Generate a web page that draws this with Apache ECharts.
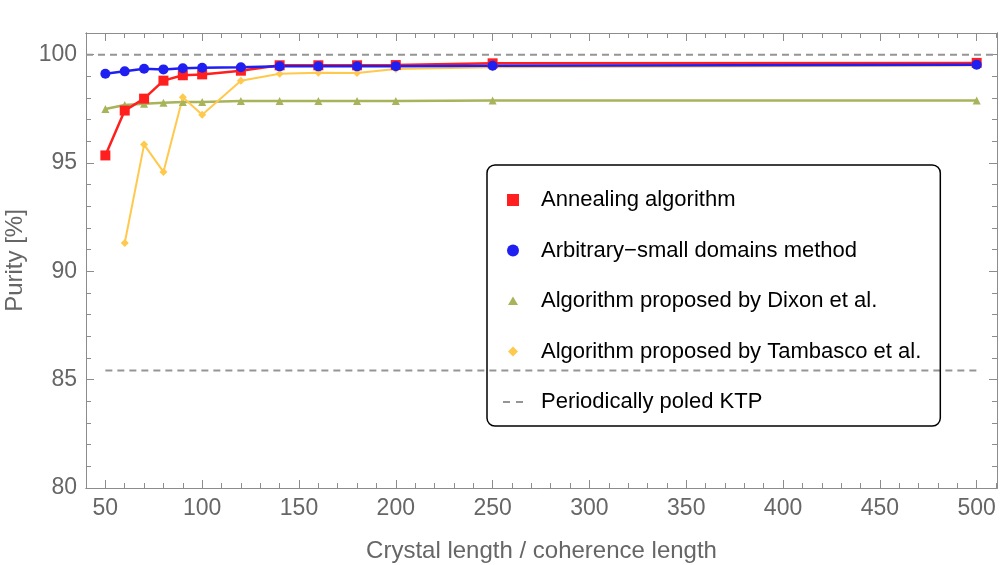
<!DOCTYPE html>
<html>
<head>
    <meta charset="UTF-8">
    <title>Purity vs crystal length</title>
    <style type="text/css">
        body { margin: 0; background: #fff; }
        #mychart { width: 1000px; height: 565px; }
    </style>
</head>
<body>
<div id="mychart"></div>
<script src="https://cdn.jsdelivr.net/npm/echarts@6/dist/echarts.min.js"></script>
<script>
    // crystal length / coherence length
    var lengths = [50, 60, 70, 80, 90, 100, 120, 140, 160, 180, 200, 250, 500];
    var lengthsTamb = [60, 70, 80, 90, 100, 120, 140, 160, 180, 200, 250, 500];

    // purity [%]
    var annealing = [95.35, 97.42, 97.97, 98.80, 99.05, 99.09, 99.26, 99.51, 99.51, 99.51, 99.52, 99.60, 99.62];
    var arbitrary = [99.12, 99.23, 99.35, 99.32, 99.37, 99.40, 99.42, 99.46, 99.46, 99.46, 99.47, 99.49, 99.54];
    var dixon = [97.49, 97.68, 97.74, 97.78, 97.82, 97.82, 97.86, 97.86, 97.86, 97.86, 97.86, 97.88, 97.88];
    var tambasco = [91.31, 95.85, 94.59, 98.03, 97.23, 98.80, 99.12, 99.17, 99.15, 99.34, 99.42, 99.50];

    var ppktp = 85.42;
    var ideal = 100;
    var ppktpRange = [50, 500];

    var xMajor = [50, 100, 150, 200, 250, 300, 350, 400, 450, 500];
    var yMajor = [80, 85, 90, 95, 100];

    var names = ['Annealing algorithm', 'Arbitrary\u2212small domains method',
        'Algorithm proposed by Dixon et al.', 'Algorithm proposed by Tambasco et al.',
        'Periodically poled KTP'];

    function pairs(xs, ys) {
        var out = [];
        for (var i = 0; i < ys.length; i++) {
            out.push([xs[i], ys[i]]);
        }
        return out;
    }

    var xMinor = [];
    for (var v = 40; v <= 510; v += 10) xMinor.push(v);
    var yMinor = [];
    for (var w = 80; w <= 101; w += 1) yMinor.push(w);

    var frameColor = '#8c8c8c';
    var textColor = '#666666';
    var font = 'Liberation Sans, Arial, sans-serif';

    function xAx(pos, ticks, len, showLabel, extra) {
        var a = {
            type: 'value', position: pos, min: 40, max: 510.5,
            axisLine: {show: true, onZero: false, lineStyle: {color: frameColor, width: 1}},
            axisTick: {show: true, inside: true, length: len, customValues: ticks,
                lineStyle: {color: frameColor, width: 1}},
            axisLabel: {show: showLabel, customValues: ticks, fontSize: 23, color: textColor,
                fontFamily: font, margin: 9},
            splitLine: {show: false}
        };
        for (var k in extra) a[k] = extra[k];
        return a;
    }

    function yAx(pos, ticks, len, showLabel, extra) {
        var a = {
            type: 'value', position: pos, min: 80, max: 101,
            axisLine: {show: true, onZero: false, lineStyle: {color: frameColor, width: 1}},
            axisTick: {show: true, inside: true, length: len, customValues: ticks,
                lineStyle: {color: frameColor, width: 1}},
            axisLabel: {show: showLabel, customValues: ticks, fontSize: 23, color: textColor,
                fontFamily: font, margin: 9},
            splitLine: {show: false}
        };
        for (var k in extra) a[k] = extra[k];
        return a;
    }

    // legend icons: bbox fixed to itemWidth x itemHeight so they sit in the same place
    var icons = [
        'path://M0,0M46,12M17,0h12v12h-12z',
        'path://M0,0M46,12M17,6a6,6 0 1,0 12,0a6,6 0 1,0 -12,0z',
        'path://M0,0M46,12M23,1.5L28,10L18,10Z',
        'path://M0,0M46,12M23,1L28,6L23,11L18,6Z',
        'path://M0,0M46,12M13,5h7v2h-7zM26,5h7v2h-7z'
    ];

    var myChart = echarts.init(document.getElementById('mychart'));

    var option = {
        animation: false,
        backgroundColor: '#ffffff',
        grid: {left: 86, right: 3, top: 33, bottom: 77, containLabel: false, outerBoundsMode: 'none'},
        xAxis: [
            xAx('bottom', xMajor, 8, true, {
                name: 'Crystal length / coherence length', nameLocation: 'middle', nameGap: 51,
                nameTextStyle: {fontSize: 24, color: textColor, fontFamily: font}
            }),
            xAx('top', xMajor, 8, false, {}),
            xAx('bottom', xMinor, 5, false, {}),
            xAx('top', xMinor, 5, false, {})
        ],
        yAxis: [
            yAx('left', yMajor, 8, true, {
                name: 'Purity [%]', nameLocation: 'middle', nameGap: 52,
                nameTextStyle: {fontSize: 24, color: textColor, fontFamily: font}
            }),
            yAx('right', yMajor, 8, false, {}),
            yAx('left', yMinor, 5, false, {}),
            yAx('right', yMinor, 5, false, {})
        ],
        legend: {
            orient: 'vertical',
            left: 487,
            top: 165,
            padding: [24, 19, 13, 3],
            itemWidth: 46,
            itemHeight: 12,
            itemGap: 28.5,
            borderColor: '#000',
            borderWidth: 1.5,
            borderRadius: 8,
            backgroundColor: 'transparent',
            textStyle: {fontSize: 22, color: '#000', fontFamily: font, lineHeight: 21},
            data: [
                {name: names[0], icon: icons[0]},
                {name: names[1], icon: icons[1]},
                {name: names[2], icon: icons[2]},
                {name: names[3], icon: icons[3]},
                {name: names[4], icon: icons[4]}
            ]
        },
        series: [
            {
                name: 'ideal', type: 'line', symbol: 'none', silent: true,
                data: [[40, ideal], [510.5, ideal]],
                color: '#959595',
                lineStyle: {color: '#959595', width: 2, type: [7, 5]}
            },
            {
                name: names[4], type: 'line', symbol: 'none',
                data: [[ppktpRange[0], ppktp], [ppktpRange[1], ppktp]],
                color: '#959595',
                lineStyle: {color: '#959595', width: 2, type: [7, 5]}
            },
            {
                name: names[2], type: 'line', symbol: 'triangle', symbolSize: 8,
                data: pairs(lengths, dixon),
                color: '#a8b35a',
                lineStyle: {width: 2.5}
            },
            {
                name: names[3], type: 'line', symbol: 'diamond', symbolSize: 8,
                data: pairs(lengthsTamb, tambasco),
                color: '#ffc94d',
                lineStyle: {width: 2}
            },
            {
                name: names[0], type: 'line', symbol: 'rect', symbolSize: 10,
                data: pairs(lengths, annealing),
                color: '#ff1f1f',
                lineStyle: {width: 2.5}
            },
            {
                name: names[1], type: 'line', symbol: 'circle', symbolSize: 10,
                data: pairs(lengths, arbitrary),
                color: '#1f1ff2',
                lineStyle: {width: 2.5}
            }
        ]
    };

    myChart.setOption(option);
</script>
</body>
</html>
